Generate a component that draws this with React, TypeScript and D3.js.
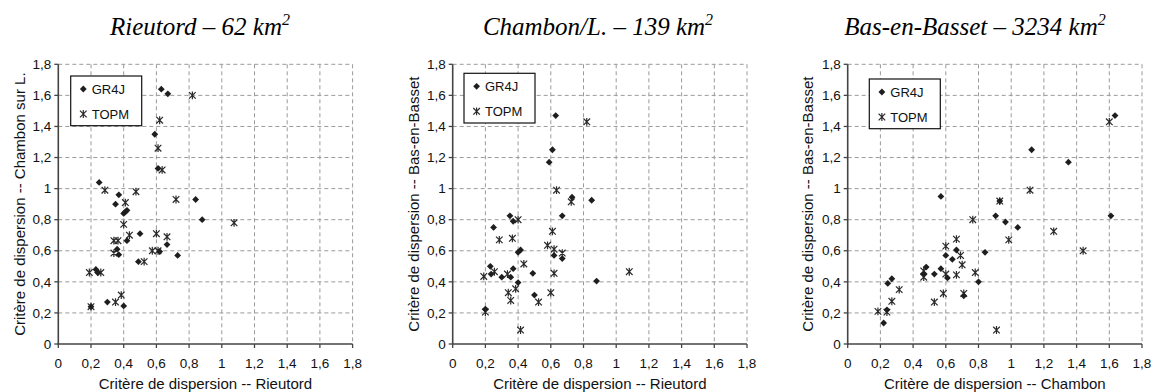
import React from 'react';
import * as d3 from 'd3';

// ---------- data ----------
const tickValues: number[] = [0, 0.2, 0.4, 0.6, 0.8, 1, 1.2, 1.4, 1.6, 1.8];
const tickLabels: string[] = ['0', '0,2', '0,4', '0,6', '0,8', '1', '1,2', '1,4', '1,6', '1,8'];
const seriesNames: string[] = ['GR4J', 'TOPM'];

const panelTitles: string[] = ['Rieutord – 62 km', 'Chambon/L. – 139 km', 'Bas-en-Basset – 3234 km'];
const xAxisTitles: string[] = [
  'Critère de dispersion -- Rieutord',
  'Critère de dispersion -- Rieutord',
  'Critère de dispersion -- Chambon',
];
const yAxisTitles: string[] = [
  'Critère de dispersion -- Chambon sur L.',
  'Critère de dispersion -- Bas-en-Basset',
  'Critère de dispersion -- Bas-en-Basset',
];

const rieutordGR4J: [number, number][] = [
  [0.63, 1.64], [0.67, 1.61], [0.59, 1.35], [0.61, 1.13], [0.25, 1.04], [0.37, 0.96], [0.35, 0.9],
  [0.84, 0.93], [0.88, 0.8], [0.4, 0.84], [0.41, 0.85], [0.42, 0.86], [0.5, 0.71], [0.42, 0.665],
  [0.665, 0.64], [0.36, 0.61], [0.37, 0.575], [0.62, 0.595], [0.73, 0.57], [0.49, 0.53], [0.23, 0.48],
  [0.24, 0.46], [0.3, 0.27], [0.4, 0.245], [0.2, 0.24],
];
const rieutordTOPM: [number, number][] = [
  [0.82, 1.6], [0.62, 1.44], [0.61, 1.26], [0.635, 1.12], [0.285, 0.99], [0.475, 0.98], [0.72, 0.93],
  [0.41, 0.91], [0.4, 0.77], [1.075, 0.78], [0.435, 0.7], [0.6, 0.71], [0.665, 0.69], [0.34, 0.665],
  [0.365, 0.665], [0.34, 0.585], [0.575, 0.6], [0.61, 0.6], [0.525, 0.53], [0.19, 0.46], [0.26, 0.46],
  [0.385, 0.315], [0.35, 0.27], [0.2, 0.24],
];

const chambonGR4J: [number, number][] = [
  [0.63, 1.47], [0.61, 1.25], [0.59, 1.17], [0.73, 0.945], [0.85, 0.925], [0.67, 0.825], [0.35, 0.825],
  [0.37, 0.79], [0.25, 0.75], [0.4, 0.59], [0.415, 0.605], [0.62, 0.57], [0.67, 0.55], [0.23, 0.5],
  [0.235, 0.45], [0.3, 0.43], [0.37, 0.485], [0.355, 0.43], [0.49, 0.455], [0.4, 0.395], [0.88, 0.405],
  [0.5, 0.315], [0.2, 0.225],
];
const chambonTOPM: [number, number][] = [
  [0.82, 1.43], [0.635, 0.99], [0.725, 0.915], [0.4, 0.8], [0.285, 0.67], [0.365, 0.68], [0.61, 0.725],
  [0.58, 0.635], [0.62, 0.61], [0.67, 0.585], [0.435, 0.515], [0.19, 0.435], [0.255, 0.465], [0.335, 0.45],
  [0.62, 0.455], [1.08, 0.465], [0.385, 0.355], [0.34, 0.33], [0.355, 0.28], [0.6, 0.33], [0.525, 0.27],
  [0.2, 0.205], [0.415, 0.09],
];

const basGR4J: [number, number][] = [
  [0.57, 0.95], [0.93, 0.92], [0.905, 0.825], [0.965, 0.785], [0.84, 0.59], [0.665, 0.605], [0.6, 0.57],
  [0.64, 0.545], [0.48, 0.495], [0.465, 0.45], [0.57, 0.485], [0.53, 0.45], [0.61, 0.425], [0.8, 0.4],
  [0.27, 0.42], [0.245, 0.39], [0.71, 0.31], [0.24, 0.22], [0.22, 0.135], [1.635, 1.47], [1.125, 1.25],
  [1.35, 1.17], [1.04, 0.75], [1.61, 0.825],
];
const basTOPM: [number, number][] = [
  [0.93, 0.92], [0.765, 0.8], [0.665, 0.675], [0.6, 0.63], [0.69, 0.57], [0.7, 0.51], [0.665, 0.445],
  [0.6, 0.45], [0.465, 0.47], [0.465, 0.43], [0.78, 0.46], [0.585, 0.325], [0.53, 0.27], [0.71, 0.325],
  [0.315, 0.35], [0.27, 0.275], [0.185, 0.21], [0.24, 0.205], [0.91, 0.09], [1.6, 1.43], [1.115, 0.99],
  [0.985, 0.67], [1.26, 0.725], [1.44, 0.6],
];

const gr4jSets = [rieutordGR4J, chambonGR4J, basGR4J];
const topmSets = [rieutordTOPM, chambonTOPM, basTOPM];

// ---------- layout ----------
const W = 1154;
const H = 392;
const TOP = 64.3;
const BOTTOM = 344;
const PW = 294.3;
const plotLefts = [58.3, 452.7, 847.7];
const titleCenters = [200, 598, 975];
const yTitleX = [20, 414, 808];
const legendPos = [
  { x: 70.7, y: 76 },
  { x: 464, y: 73.3 },
  { x: 869.3, y: 79 },
];

const SANS = 'Liberation Sans, Arial, sans-serif';
const SERIF = 'Liberation Serif, Times New Roman, serif';
const INK = '#1e1e1e';

const diamondPath = 'M0,-3.4L3.4,0L0,3.4L-3.4,0Z';
const starPath = 'M-3.3,-3.3L3.3,3.3M-3.3,3.3L3.3,-3.3M0,-3.9L0,3.9';

function Panel({ i }: { i: number }) {
  const left = plotLefts[i];
  const x = d3.scaleLinear().domain([0, 1.8]).range([left, left + PW]);
  const y = d3.scaleLinear().domain([0, 1.8]).range([BOTTOM, TOP]);
  const midY = (TOP + BOTTOM) / 2;
  const lg = legendPos[i];
  return (
    <g>
      {/* gridlines */}
      {tickValues.slice(1).map((v) => (
        <line key={'gx' + v} x1={x(v)} x2={x(v)} y1={TOP} y2={BOTTOM}
          stroke="#9a9a9a" strokeWidth={1} strokeDasharray="4,3" />
      ))}
      {tickValues.slice(1).map((v) => (
        <line key={'gy' + v} x1={left} x2={left + PW} y1={y(v)} y2={y(v)}
          stroke="#9a9a9a" strokeWidth={1} strokeDasharray="4,3" />
      ))}
      {/* axes */}
      <line x1={left} x2={left} y1={TOP} y2={BOTTOM + 0.5} stroke="#444" strokeWidth={1.6} />
      <line x1={left - 0.5} x2={left + PW} y1={BOTTOM} y2={BOTTOM} stroke="#444" strokeWidth={1.6} />
      {tickValues.map((v) => (
        <line key={'tx' + v} x1={x(v)} x2={x(v)} y1={BOTTOM} y2={BOTTOM + 4} stroke="#444" strokeWidth={1.3} />
      ))}
      {tickValues.map((v) => (
        <line key={'ty' + v} x1={left - 4} x2={left} y1={y(v)} y2={y(v)} stroke="#444" strokeWidth={1.3} />
      ))}
      {tickValues.map((v, k) => (
        <text key={'lx' + v} x={x(v)} y={368} textAnchor="middle" fontFamily={SANS} fontSize={13.5} fill="#111">
          {tickLabels[k]}
        </text>
      ))}
      {tickValues.map((v, k) => (
        <text key={'ly' + v} x={left - 7} y={y(v) + 4.7} textAnchor="end" fontFamily={SANS} fontSize={13.5} fill="#111">
          {tickLabels[k]}
        </text>
      ))}
      {/* axis titles */}
      <text x={left + PW / 2} y={388.5} textAnchor="middle" fontFamily={SANS} fontSize={15} fill="#111">
        {xAxisTitles[i]}
      </text>
      <text transform={`translate(${yTitleX[i] + 5},${midY}) rotate(-90)`} textAnchor="middle"
        fontFamily={SANS} fontSize={15} fill="#111">
        {yAxisTitles[i]}
      </text>
      {/* points */}
      {topmSets[i].map((d, k) => (
        <path key={'t' + k} d={starPath} transform={`translate(${x(d[0])},${y(d[1])})`}
          fill="none" stroke="#2a2a2a" strokeWidth={1.2} />
      ))}
      {gr4jSets[i].map((d, k) => (
        <path key={'g' + k} d={diamondPath} transform={`translate(${x(d[0])},${y(d[1])})`} fill={INK} />
      ))}
      {/* legend */}
      <rect x={lg.x} y={lg.y} width={71} height={49.7} fill="#fff" stroke="#111" strokeWidth={1.2} />
      <path d={diamondPath} transform={`translate(${lg.x + 12.6},${lg.y + 13})`} fill={INK} />
      <text x={lg.x + 21} y={lg.y + 17.5} fontFamily={SANS} fontSize={13} fill="#111">{seriesNames[0]}</text>
      <path d={starPath} transform={`translate(${lg.x + 12.6},${lg.y + 38})`} fill="none" stroke="#2a2a2a" strokeWidth={1.2} />
      <text x={lg.x + 21} y={lg.y + 42.5} fontFamily={SANS} fontSize={13} fill="#111">{seriesNames[1]}</text>
      {/* title */}
      <text x={titleCenters[i]} y={35} textAnchor="middle" fontFamily={SERIF} fontStyle="italic" fontSize={25} fill="#000">
        {panelTitles[i]}
        <tspan dy={-10} fontSize={16}>2</tspan>
      </text>
    </g>
  );
}

export default function App() {
  return (
    <svg width={W} height={H} style={{ position: 'absolute', left: 0, top: 0, background: '#fff' }}>
      <rect width={W} height={H} fill="#fff" />
      {[0, 1, 2].map((i) => (
        <Panel key={i} i={i} />
      ))}
    </svg>
  );
}
